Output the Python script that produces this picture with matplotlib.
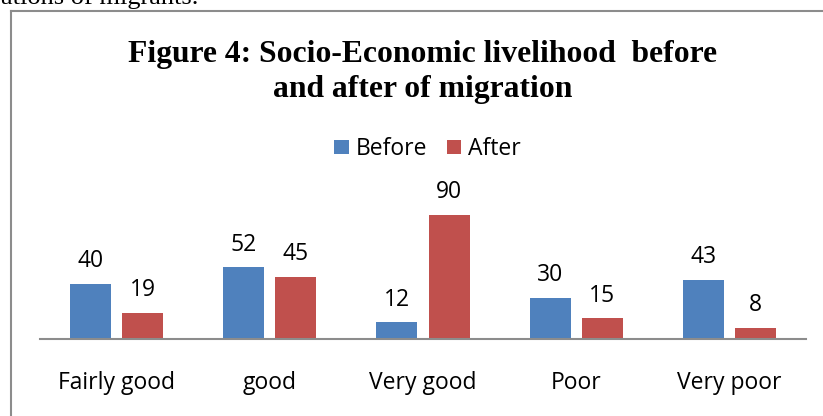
import numpy as np
import matplotlib
matplotlib.use("Agg")
import matplotlib.pyplot as plt
from matplotlib.lines import Line2D

categories = ["Fairly good", "good", "Very good", "Poor", "Very poor"]
before = [40, 52, 12, 30, 43]
after = [19, 45, 90, 15, 8]

W, H = 823, 416
fig = plt.figure(figsize=(W / 100, H / 100), dpi=100)

# page border around the chart (cut off on the right/bottom)
gray = "#8c8c8c"
fig.add_artist(Line2D([10.5 / W, 10.5 / W], [0, 1 - 10.5 / H], color=gray, lw=1.5))
fig.add_artist(Line2D([10.5 / W, 1], [1 - 10.5 / H, 1 - 10.5 / H], color=gray, lw=1.5))

# leftover body text from the page above the chart
fig.text(198 / W, 1 - 4 / H, "ations of migrants.", family="Liberation Serif",
         fontsize=19, va="baseline", ha="right")

ax = fig.add_axes([40 / W, 1 - 339 / H, 766 / W, 138 / H])
x = np.arange(len(categories))
w = 0.268
off = 0.17
b1 = ax.bar(x - off, before, w, color="#4F81BD", label="Before")
b2 = ax.bar(x + off, after, w, color="#C0504D", label="After")

lab_font = dict(family="Open Sans", fontsize=16.5)
for bars in (b1, b2):
    for r in bars:
        ax.annotate(f"{int(r.get_height())}", (r.get_x() + r.get_width() / 2, r.get_height()),
                    xytext=(0, 12), textcoords="offset points", ha="center", va="baseline",
                    **lab_font)

ax.set_xlim(-0.5, len(categories) - 0.5)
ax.set_ylim(0, 100)
ax.set_yticks([])
ax.set_xticks(x)
ax.set_xticklabels(categories, **lab_font)
ax.tick_params(axis="x", length=0, pad=23)
for s in ["top", "left", "right"]:
    ax.spines[s].set_visible(False)
ax.spines["bottom"].set_color(gray)
ax.spines["bottom"].set_linewidth(1.5)
ax.patch.set_alpha(0)

title_font = dict(family="Liberation Serif", fontweight="bold", fontsize=22.8,
                  ha="center", va="baseline")
fig.text(422.5 / W, 1 - 62 / H, "Figure 4: Socio-Economic livelihood  before", **title_font)
fig.text(423 / W, 1 - 97 / H, "and after of migration", **title_font)

fig.legend(handles=[b1, b2], loc="center", bbox_to_anchor=(427.5 / W, 1 - 149 / H), ncol=2,
           frameon=False, prop=dict(family="Open Sans", size=16.5), handlelength=0.62,
           handleheight=0.62, handletextpad=0.3, columnspacing=0.87)

fig.savefig("out.png", dpi=100)
